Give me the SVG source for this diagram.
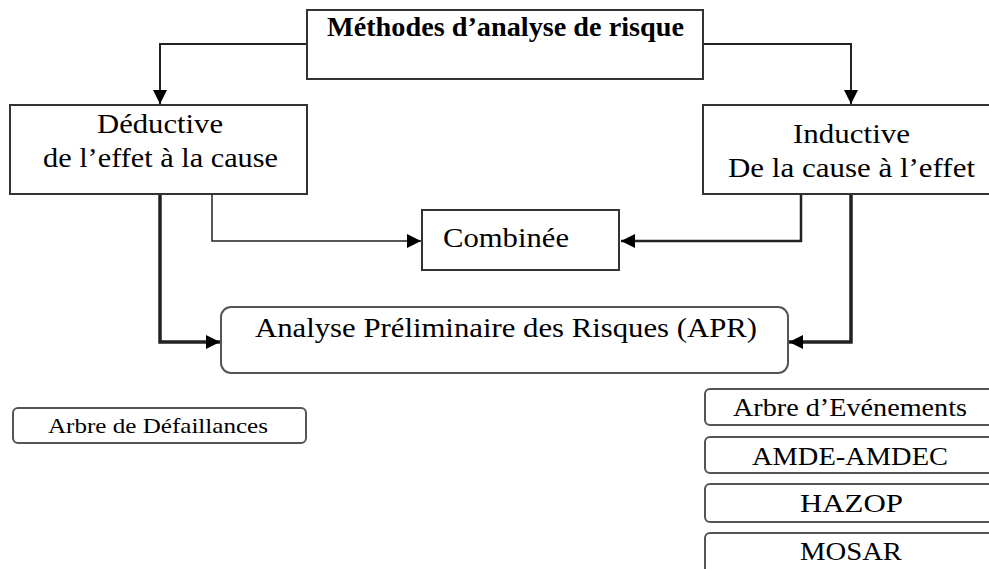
<svg xmlns="http://www.w3.org/2000/svg" width="989" height="569" viewBox="0 0 989 569">
<style>
.box{fill:#fff;stroke:#333;stroke-width:2}
.rbox{fill:#fff;stroke:#555;stroke-width:2}
.t{font-family:"Liberation Serif","Times New Roman",serif;fill:#000}
.c{fill:none;stroke:#222}
</style>
<defs>
<marker id="ah" markerUnits="userSpaceOnUse" markerWidth="16" markerHeight="14" refX="14" refY="7" orient="auto">
<path d="M0,0 L14,7 L0,14 Z" fill="#000"/>
</marker>
</defs>
<rect width="989" height="569" fill="#fff"/>
<g id="connectors">
<path class="c" stroke-width="2" d="M307,44 H160 V104" marker-end="url(#ah)"/>
<path class="c" stroke-width="2" d="M703,44 H851 V104" marker-end="url(#ah)"/>
<path class="c" stroke-width="1.5" d="M212,194 V241 H421" marker-end="url(#ah)"/>
<path class="c" stroke-width="2.5" d="M801,194 V241 H621" marker-end="url(#ah)"/>
<path class="c" stroke-width="3.5" stroke="#000" d="M160,194 V342 H220" marker-end="url(#ah)"/>
<path class="c" stroke-width="3.5" stroke="#000" d="M851,194 V342 H789" marker-end="url(#ah)"/>
</g>
<g id="title">
<rect class="box" x="307" y="10" width="396" height="69"/>
<text class="t" x="327" y="36" font-size="27" font-weight="bold" textLength="357" lengthAdjust="spacingAndGlyphs">Méthodes d’analyse de risque</text>
</g>
<g id="deductive">
<rect class="box" x="10" y="105" width="297" height="89"/>
<text class="t" x="97" y="133" font-size="27" textLength="126" lengthAdjust="spacingAndGlyphs">Déductive</text>
<text class="t" x="43" y="167" font-size="27" textLength="235" lengthAdjust="spacingAndGlyphs">de l’effet à la cause</text>
</g>
<g id="inductive">
<rect class="box" x="703" y="105" width="300" height="89"/>
<text class="t" x="793" y="143" font-size="27" textLength="117" lengthAdjust="spacingAndGlyphs">Inductive</text>
<text class="t" x="728" y="177" font-size="27" textLength="247" lengthAdjust="spacingAndGlyphs">De la cause à l’effet</text>
</g>
<g id="combinee">
<rect class="box" x="422" y="210" width="197" height="60"/>
<text class="t" x="443" y="247" font-size="28" textLength="126" lengthAdjust="spacingAndGlyphs">Combinée</text>
</g>
<g id="apr">
<rect class="rbox" x="221" y="307" width="567" height="66" rx="10"/>
<text class="t" x="255" y="337" font-size="27" textLength="502" lengthAdjust="spacingAndGlyphs">Analyse Préliminaire des Risques (APR)</text>
</g>
<g id="arbre-defaillances">
<rect class="rbox" x="13" y="408" width="293" height="35" rx="5"/>
<text class="t" x="48" y="433" font-size="22" textLength="220" lengthAdjust="spacingAndGlyphs">Arbre de Défaillances</text>
</g>
<g id="arbre-evenements">
<rect class="rbox" x="705" y="389" width="295" height="36" rx="5"/>
<text class="t" x="733" y="416" font-size="25" textLength="234" lengthAdjust="spacingAndGlyphs">Arbre d’Evénements</text>
</g>
<g id="amde">
<rect class="rbox" x="705" y="437" width="295" height="36" rx="5"/>
<text class="t" x="752" y="465" font-size="25" textLength="196" lengthAdjust="spacingAndGlyphs">AMDE-AMDEC</text>
</g>
<g id="hazop">
<rect class="rbox" x="705" y="484" width="295" height="38" rx="5"/>
<text class="t" x="800" y="512" font-size="25" textLength="103" lengthAdjust="spacingAndGlyphs">HAZOP</text>
</g>
<g id="mosar">
<rect class="rbox" x="705" y="533" width="295" height="40" rx="5"/>
<text class="t" x="800" y="560" font-size="25" textLength="102" lengthAdjust="spacingAndGlyphs">MOSAR</text>
</g>
</svg>
